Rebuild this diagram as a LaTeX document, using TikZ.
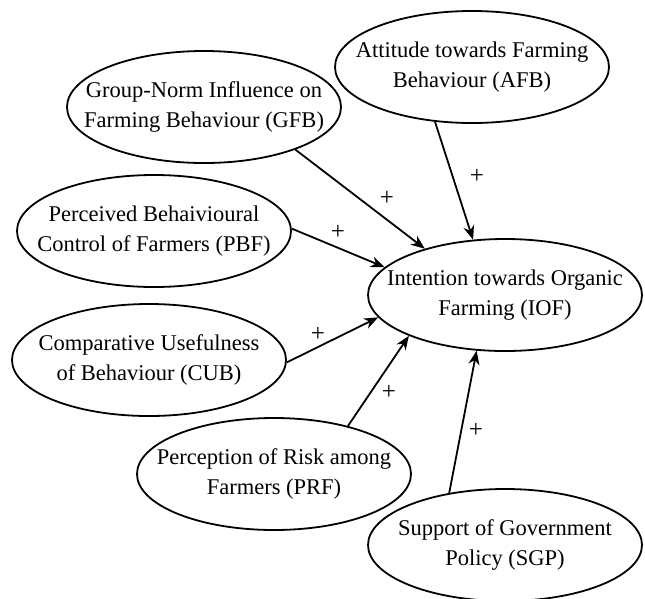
\documentclass[tikz,border=0pt]{standalone}
\usepackage{fontspec}
\setmainfont{Liberation Serif}
\usetikzlibrary{shapes.geometric,arrows.meta}

\begin{document}
\begin{tikzpicture}[x=1pt,y=-1pt,
    construct/.style={ellipse,draw,line width=1.8pt,minimum width=274pt,minimum height=112pt,
      inner xsep=-45pt,inner ysep=0pt,align=center,font=\fontsize{22.5}{30}\selectfont},
    sign/.style={font=\fontsize{25}{30}\selectfont,inner sep=0pt},
    conn/.style={line width=1.8pt,-{Stealth[length=14pt,width=11pt,inset=4.5pt]}}]
  \useasboundingbox (0,0) rectangle (645,598);
  \node[construct] (afb) at (472,67) {Attitude towards Farming\\Behaviour (AFB)};
  \node[construct] (gfb) at (204,107) {Group-Norm Influence on\\Farming Behaviour (GFB)};
  \node[construct] (pbf) at (154,231) {Perceived Behaivioural\\Control of Farmers (PBF)};
  \node[construct] (iof) at (505,295) {Intention towards Organic\\Farming (IOF)};
  \node[construct] (cub) at (149,360) {Comparative Usefulness\\of Behaviour (CUB)};
  \node[construct] (prf) at (274,474) {Perception of Risk among\\Farmers (PRF)};
  \node[construct] (sgp) at (505,545) {Support of Government\\Policy (SGP)};
  % Draw the paths into IOF
  \draw[conn] (afb.236) -- (iof.120);
  \draw[conn] (gfb.335) -- (iof.150);
  \draw[conn] (pbf.1) -- (iof.167);
  \draw[conn] (cub.359) -- (iof.190);
  \draw[conn] (prf.33) -- (iof.203);
  \draw[conn] (sgp.137) -- (iof.243);
  \node[sign] (s1) at (477,176) {+};
  \node[sign] (s2) at (387,198) {+};
  \node[sign] (s3) at (338,232) {+};
  \node[sign] (s4) at (318,334) {+};
  \node[sign] (s5) at (389,392) {+};
  \node[sign] (s6) at (476,430) {+};
\end{tikzpicture}
\end{document}
